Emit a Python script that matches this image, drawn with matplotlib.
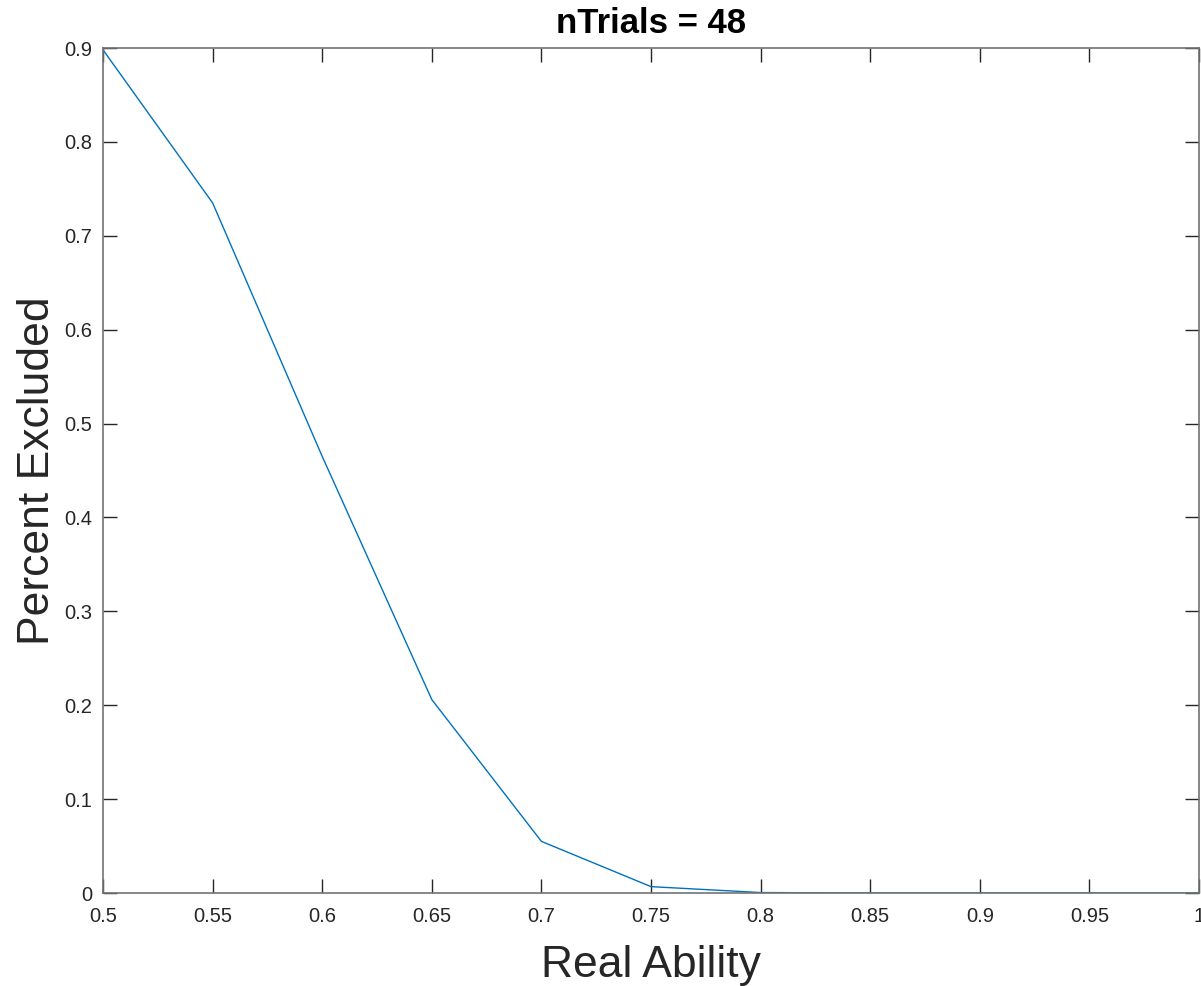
import matplotlib
matplotlib.use("Agg")
import matplotlib.pyplot as plt

# Percent excluded vs real ability
real_ability = [0.5, 0.55, 0.6, 0.65, 0.7, 0.75, 0.8, 0.85, 0.9, 0.95, 1.0]
pct_excluded = [0.898, 0.735, 0.465, 0.206, 0.055, 0.0068, 0.0005, 0.0, 0.0, 0.0, 0.0]

x_ticks = [0.5, 0.55, 0.6, 0.65, 0.7, 0.75, 0.8, 0.85, 0.9, 0.95, 1.0]
x_tick_labels = ['0.5', '0.55', '0.6', '0.65', '0.7', '0.75', '0.8', '0.85', '0.9', '0.95', '1']
y_ticks = [0, 0.1, 0.2, 0.3, 0.4, 0.5, 0.6, 0.7, 0.8, 0.9]
y_tick_labels = ['0', '0.1', '0.2', '0.3', '0.4', '0.5', '0.6', '0.7', '0.8', '0.9']

plt.rcParams['font.family'] = ['Liberation Sans', 'DejaVu Sans']

axis_color = (0.15, 0.15, 0.15)

fig = plt.figure(figsize=(12.01, 9.86), dpi=100)
ax = fig.add_axes([0.0858, 0.0943, 0.9125, 0.857])

ax.plot(real_ability, pct_excluded, color='#0072BD', linewidth=1.0)

ax.set_xlim(0.5, 1.0)
ax.set_ylim(0, 0.9)
ax.set_xticks(x_ticks)
ax.set_xticklabels(x_tick_labels)
ax.set_yticks(y_ticks)
ax.set_yticklabels(y_tick_labels)

ax.tick_params(direction='in', length=10, width=1, colors=axis_color,
               labelsize=14.5, top=True, right=True)
ax.tick_params(axis='x', pad=10)
ax.tick_params(axis='y', pad=8)
for sp in ax.spines.values():
    sp.set_color((0.45, 0.45, 0.45))
    sp.set_linewidth(1.2)

ax.set_xlabel('Real Ability', fontsize=32, color=axis_color, labelpad=14)
ax.set_ylabel('Percent Excluded', fontsize=32, color=axis_color, labelpad=4)
ax.set_title('nTrials = 48', fontsize=25, fontweight='bold', color='black', pad=11)

fig.savefig('out.png', dpi=100)
